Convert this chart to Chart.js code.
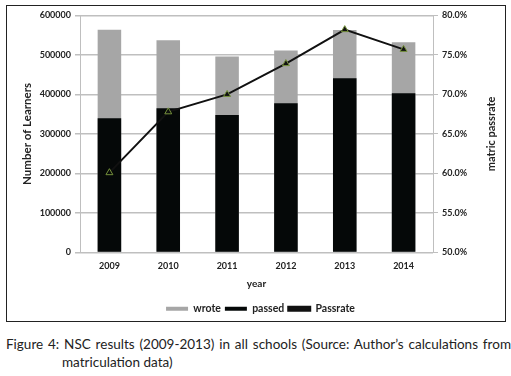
<!DOCTYPE html>
<html>
<head>
<meta charset="utf-8">
<script src="https://cdn.jsdelivr.net/npm/chart.js@4"></script>
<style>
  body { margin: 0; background: #fff; width: 511px; height: 376px; overflow: hidden; font-family: "Lato", sans-serif; }
  #box { position: absolute; left: 6px; top: 5px; width: 498px; height: 315px; border: 1px solid #222; }
  #myChart { position: absolute; left: 0; top: 0; }
  .cap { position: absolute; font-family: "Lato", sans-serif; font-size: 13.5px; color: #222; }
  #cap1 { left: 6px; top: 336px; width: 505px; text-align: justify; text-align-last: justify; white-space: nowrap; }
  #cap2 { left: 62px; top: 354px; }
</style>
</head>
<body>
<div id="box"><canvas id="myChart" width="498" height="318"></canvas></div>
<div class="cap" id="cap1">Figure 4: NSC results (2009-2013) in all schools (Source: Author’s calculations from</div>
<div class="cap" id="cap2">matriculation data)</div>
<script>
var years = ['2009', '2010', '2011', '2012', '2013', '2014'];
var wrote = [564000, 537000, 496000, 511000, 563000, 532000];
var passed = [340000, 365000, 348000, 378000, 441000, 403000];
var passrate = [60.1, 67.8, 70.0, 73.9, 78.2, 75.7];

var ctx = document.getElementById("myChart").getContext('2d');
var tickFont = { family: 'Lato', size: 9, weight: 'bold' };

// right axis title reads bottom-to-top in the original
var rightTitle = {
    id: 'rightTitle',
    afterDraw: function (chart) {
        var c = chart.ctx;
        var a = chart.chartArea;
        c.save();
        c.translate(484, (a.top + a.bottom) / 2);
        c.rotate(-Math.PI / 2);
        c.fillStyle = '#222';
        c.font = 'bold 11px Lato';
        c.textAlign = 'center';
        c.textBaseline = 'middle';
        c.fillText('matric passrate', 0, 0);
        c.restore();
    }
};

var myChart = new Chart(ctx, {
    type: 'bar',
    data: {
        labels: years,
        datasets: [{
            label: 'wrote',
            data: wrote,
            backgroundColor: '#a6a6a6',
            grouped: false,
            order: 2,
            yAxisID: 'y'
        }, {
            label: 'passed',
            data: passed,
            backgroundColor: '#050808',
            grouped: false,
            order: 1,
            yAxisID: 'y'
        }, {
            type: 'line',
            label: 'Passrate',
            data: passrate,
            borderColor: '#111',
            backgroundColor: '#111',
            borderWidth: 2,
            pointStyle: 'triangle',
            pointRadius: 4,
            pointBorderColor: '#76923c',
            pointBorderWidth: 1,
            pointBackgroundColor: ['rgba(0,0,0,0)', 'rgba(0,0,0,0)', '#111', '#111', '#111', '#111'],
            order: 0,
            yAxisID: 'y1'
        }]
    },
    options: {
        responsive: false,
        animation: false,
        layout: { padding: { top: 6, left: 9, right: 0, bottom: 0 } },
        datasets: { bar: { barPercentage: 0.4, categoryPercentage: 1 } },
        scales: {
            x: {
                grid: { drawOnChartArea: false, drawTicks: false },
                border: { color: '#bfbfbf', width: 1 },
                ticks: { color: '#222', font: tickFont, padding: 8 },
                title: { display: true, text: 'year', color: '#222', font: { family: 'Lato', size: 10, weight: 'bold' }, padding: { top: 4, bottom: 10 } },
                afterFit: function (s) { s.height = 47; }
            },
            y: {
                position: 'left',
                min: 0,
                max: 600000,
                ticks: { stepSize: 100000, color: '#222', font: tickFont, padding: 4,
                    callback: function (v) { return String(v); } },
                grid: { color: '#bfbfbf', lineWidth: 1.5, tickLength: 5 },
                border: { color: '#bfbfbf' },
                title: { display: true, text: 'Number of Learners', color: '#222', font: { family: 'Lato', size: 11.5, weight: 'bold' } },
                afterFit: function (s) { s.width = 64; }
            },
            y1: {
                position: 'right',
                min: 50,
                max: 80,
                ticks: { stepSize: 5, color: '#222', font: tickFont, padding: 4,
                    callback: function (v) { return v.toFixed(1) + '%'; } },
                grid: { drawOnChartArea: false, color: '#bfbfbf', tickLength: 5 },
                border: { color: '#bfbfbf' },
                afterFit: function (s) { s.width = 72; }
            }
        },
        plugins: {
            legend: {
                position: 'bottom',
                labels: {
                    boxWidth: 22,
                    boxHeight: 4,
                    padding: 4,
                    color: '#222',
                    font: { family: 'Lato', size: 10.5, weight: 'bold' },
                    sort: function (a, b) { return a.datasetIndex - b.datasetIndex; }
                }
            },
            tooltip: { enabled: false }
        }
    },
    plugins: [rightTitle]
});
</script>
</body>
</html>
